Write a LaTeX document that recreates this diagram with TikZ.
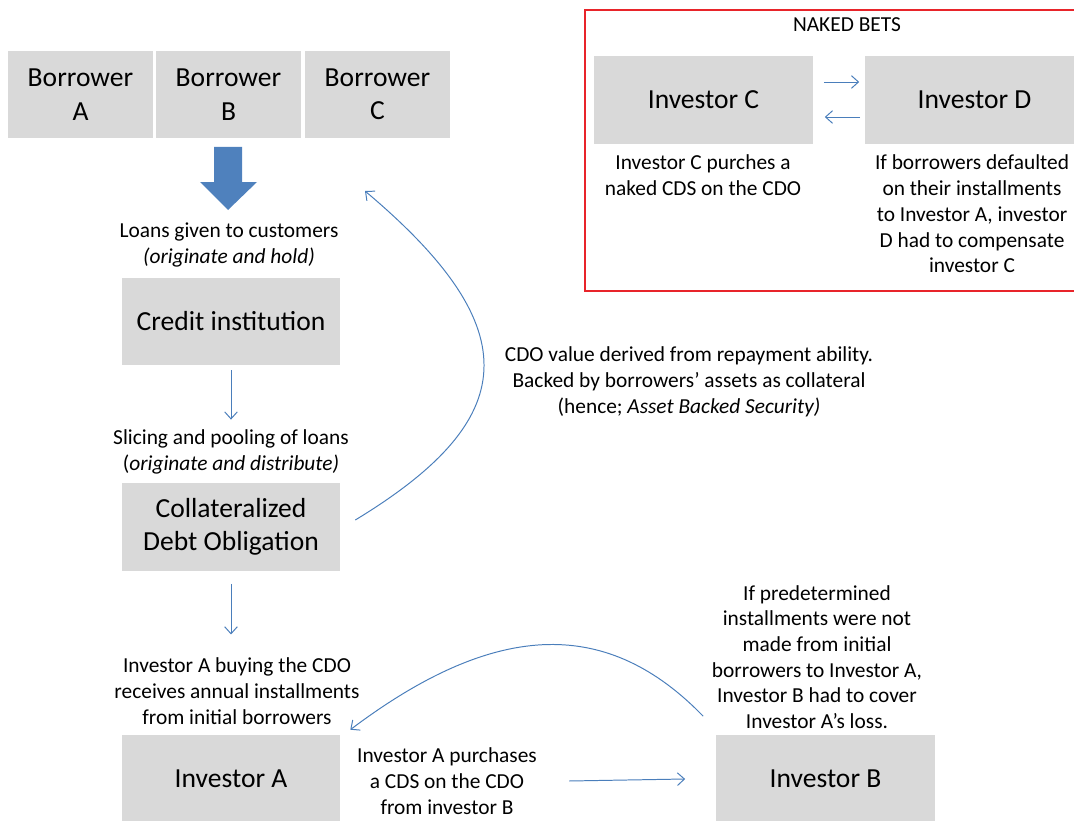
\documentclass[tikz,border=0pt]{standalone}
\usepackage{fontspec}
\setmainfont{Carlito}
\usetikzlibrary{arrows.meta}
\definecolor{boxgray}{HTML}{D9D9D9}
\definecolor{fatblue}{HTML}{4F81BD}
\definecolor{lineblue}{HTML}{4A7EBB}
\definecolor{betred}{HTML}{E8242A}
\newcommand{\smalltxt}{\fontsize{15.2}{18.3}\selectfont}
\newcommand{\bigtxt}{\fontsize{19.6}{23.8}\selectfont}
\begin{document}
\begin{tikzpicture}[x=0.025cm,y=-0.025cm]

    \tikzset{
      party/.style={
        fill=boxgray,
        align=center,
        inner sep=0pt,
        minimum width=5.45cm,
        minimum height=2.175cm,
        font=\bigtxt,
      },
      borrower/.style={
        party,
        minimum width=3.625cm,
      },
      note/.style={
        align=center,
        inner sep=0pt,
        font=\smalltxt,
      },
      flow/.style={
        draw=lineblue,
        line width=0.7pt,
        -{Straight Barb[length=5pt,width=9pt]},
      },
    }
    \useasboundingbox (0,0) rectangle (1074,821);
    \clip (0,0) rectangle (1074,821);

    % borrowers and the chain of loans
    \node[borrower] (borA) at (80.5,94.5) {Borrower\\A};
    \node[borrower] (borB) at (228.5,94.5) {Borrower\\B};
    \node[borrower] (borC) at (377.5,94.5) {Borrower\\C};
    \fill[fatblue] (214,147) -- (242,147) -- (242,182) -- (257,182) -- (228,210) -- (200,182) -- (214,182) -- cycle;
    \node[note] (loans) at (229,245) {Loans given to customers\\\textit{(originate and hold)}};
    \node[party] (credit) at (231,321.5) {Credit institution};
    \node[note] (slice) at (231,452) {Slicing and pooling of loans\\(\textit{originate and distribute)}};
    \node[party] (cdo) at (231,527) {Collateralized\\Debt Obligation};
    \node[note] (buyA) at (237,691) {Investor A buying the CDO\\receives annual installments\\from initial borrowers};
    \node[party] (invA) at (231,778.5) {Investor A};
    \node[party] (invB) at (825.5,779) {Investor B};
    \node[note] (cds) at (447,781) {Investor A purchases\\a CDS on the CDO\\from investor B};
    \node[note] (cover) at (817,657) {If predetermined\\installments were not\\made from initial\\borrowers to Investor A,\\Investor B had to cover\\Investor A’s loss.};
    \node[note] (value) at (689,382) {CDO value derived from repayment ability.\\Backed by borrowers’ assets as collateral\\(hence; \textit{Asset Backed Security)}};
    \coordinate (backtop) at (365,191);

    \draw[flow] (credit.south) ++(0,5) -- ([yshift=0.25cm]slice.north);
    \draw[flow] ([yshift=-0.325cm]cdo.south) -- ([yshift=0.575cm]buyA.north -| cdo.south);
    \draw[flow] ([xshift=0.8cm]cds.east) -- ([xshift=-0.775cm]invB.west);
    \draw[flow] ([xshift=0.375cm,yshift=0.175cm]cdo.east) .. controls (520,420) and (530,330) .. (backtop);
    \draw[flow] ([xshift=-0.325cm,yshift=0.475cm]invB.north west) .. controls (610,620) and (500,617) .. ([xshift=0.25cm,yshift=0.125cm]invA.north east);

    % naked bets
    \draw[betred, line width=0.9pt] (585,10) rectangle (1085,291);
    \node[note] (naked) at (847,25) {NAKED BETS};
    \node[party] (invC) at (703.5,100) {Investor C};
    \node[party] (invD) at (974.5,100) {Investor D};
    \node[note] (nakedC) at (703,175) {Investor C purches a\\naked CDS on the CDO};
    \node[note] (nakedD) at (972,214) {If borrowers defaulted\\on their installments\\to Investor A, investor\\D had to compensate\\investor C};
    \draw[flow] ([xshift=0.275cm,yshift=0.45cm]invC.east) -- ([xshift=-0.15cm,yshift=0.45cm]invD.west);
    \draw[flow] ([xshift=-0.125cm,yshift=-0.425cm]invD.west) -- ([xshift=0.3cm,yshift=-0.425cm]invC.east);

\end{tikzpicture}
\end{document}
